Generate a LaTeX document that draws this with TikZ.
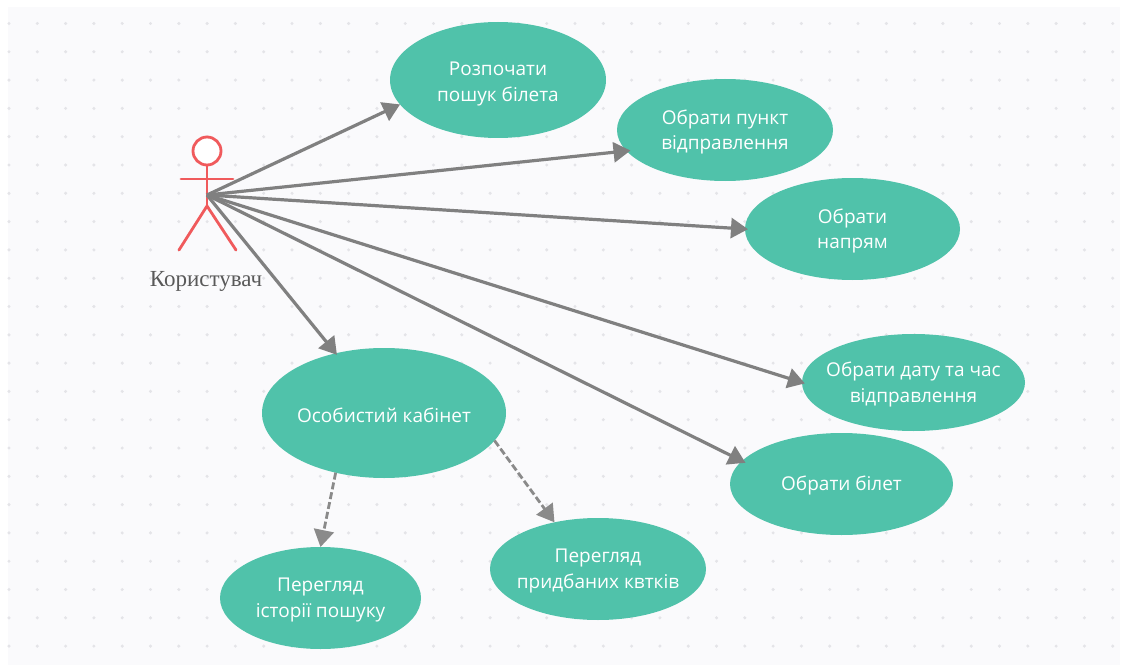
\documentclass[tikz,border=0pt]{standalone}
\usepackage{fontspec}
\setmainfont{Open Sans}
\newfontfamily\actorfont{Liberation Serif}
\usetikzlibrary{shapes.geometric,arrows.meta}
\definecolor{panelbg}{HTML}{FAFAFC}
\definecolor{griddot}{HTML}{E4E4E8}
\definecolor{usecase}{HTML}{50C2AA}
\definecolor{actorred}{HTML}{F05A5C}
\definecolor{linkgray}{HTML}{808080}
\definecolor{dashgray}{HTML}{8A8A8A}
\tikzset{
  x=1pt,y=-1pt,
  uc/.style={ellipse,fill=usecase,draw=none,inner sep=0pt,outer sep=0pt},
  uctext/.style={text=white,align=center,inner sep=0pt,yshift=-2pt,font=\fontsize{19}{25.7}\selectfont},
  stick/.style={draw=actorred,line width=2.8pt,line cap=round},
  assoc/.style={draw=linkgray,line width=3.2pt,-{Triangle[length=17pt,width=20pt]}},
  dep/.style={draw=dashgray,line width=2.8pt,dash pattern=on 7pt off 3pt,-{Triangle[length=17pt,width=20pt]}},
}
\begin{document}
\begin{tikzpicture}
\useasboundingbox (0,0) rectangle (1122,666);
\fill[white] (0,0) rectangle (1122,666);
\fill[panelbg] (8,7) rectangle (1120,665);
\foreach \i in {0,...,39}{\foreach \j in {0,...,22}{
  \fill[griddot] ({9+28.3*\i},{23.5+28.3*\j}) circle (1.7pt);
}}
% use cases
\node[uc,minimum width=216pt,minimum height=116pt,label={[uctext,yshift=-2pt]center:Розпочати\\пошук білета}] (start) at (498,80) {};
\node[uc,minimum width=216pt,minimum height=102pt,label={[uctext]center:Обрати пункт\\відправлення}] (from) at (725,130) {};
\node[uc,minimum width=215pt,minimum height=102pt,label={[uctext]center:Обрати\\напрям}] (dir) at (852.5,229) {};
\node[uc,minimum width=223pt,minimum height=97pt,label={[uctext]center:Обрати дату та час\\відправлення}] (date) at (913.5,382.5) {};
\node[uc,minimum width=223pt,minimum height=102pt,label={[uctext]center:Обрати білет}] (ticket) at (841.5,484) {};
\node[uc,minimum width=244pt,minimum height=130pt,label={[uctext]center:Особистий кабінет}] (cab) at (384,413) {};
\node[uc,minimum width=201pt,minimum height=102pt,label={[uctext]center:Перегляд\\історії пошуку}] (hist) at (320.5,598) {};
\node[uc,minimum width=216pt,minimum height=102pt,label={[uctext]center:Перегляд\\придбаних квтків}] (bought) at (598,569) {};
% actor
\node[circle,draw=actorred,line width=2.8pt,fill=white,minimum size=28pt,inner sep=0pt] (head) at (207,151) {};
\coordinate (hip) at (207,206);
\coordinate (hub) at (207,195);
\coordinate (armL) at (181,179);
\coordinate (armR) at (233,179);
\coordinate (legL) at (179,250);
\coordinate (legR) at (236,250);
\draw[stick] (head) -- (hip);
\draw[stick] (armL) -- (armR);
\draw[stick] (legL) -- (hip) -- (legR);
\node[text=black!65,inner sep=0pt,font=\actorfont\fontsize{23}{26}\selectfont] (actorlabel) at (206,281) {Користувач};
% links
\draw[assoc] (hub) -- (start.194);
\draw[assoc,shorten >=-4pt] (hub) -- (from.192);
\draw[assoc,shorten >=-3pt] (hub) -- (dir.west);
\draw[assoc,shorten >=-3pt] (hub) -- (date.west);
\draw[assoc,shorten >=-4pt] (hub) -- (ticket.167);
\draw[assoc,shorten >=-2pt] (hub) -- (cab.129);
\draw[dep] (cab.231) -- (hist.north);
\draw[dep] (cab.-14) -- (bought.133);
\end{tikzpicture}
\end{document}
